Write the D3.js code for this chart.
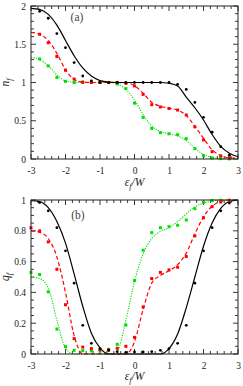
<!DOCTYPE html>
<html><head><meta charset="utf-8">
<script src="https://cdn.jsdelivr.net/npm/d3@7"></script>
<style>body{margin:0;background:#fff}svg{display:block}</style>
</head><body>
<script>
// ---- data ----
const curveX = [-3,-2.75,-2.5,-2.25,-2,-1.75,-1.5,-1.25,-1,-0.75,-0.5,-0.25,0,0.25,0.5,0.75,1,1.25,1.5,1.75,2,2.25,2.5,2.75,3];
const dotXA = [-2.75,-2.5,-2.25,-2,-1.75,-1.5,-1.25,-1,-0.75,-0.5,-0.25,0,0.25,0.5,0.75,1,1.25,1.5,1.75,2,2.25,2.5,2.75];
const dotXB = [-3,-2.75,-2.5,-2.25,-2,-1.75,-1.5,-1.25,-1,-0.75,-0.5,-0.25,0,0.25,0.5,0.75,1,1.25,1.5,1.75,2,2.25,2.5,2.75];

// panel (a): n_f
const nBlackCurve = [1.97,1.955,1.89,1.75,1.55,1.35,1.19,1.085,1.025,1.005,1,1,1,1,1,1,0.99,0.955,0.81,0.67,0.51,0.32,0.165,0.075,0.03];
const nRedCurve   = [1.655,1.63,1.55,1.38,1.17,1.04,1.005,1,1,1,1,0.995,0.96,0.86,0.74,0.69,0.665,0.64,0.57,0.43,0.27,0.12,0.045,0.015,0.01];
const nGreenCurve = [1.33,1.30,1.22,1.10,1.02,1.003,1,1,1,1,0.98,0.91,0.77,0.58,0.43,0.36,0.33,0.30,0.24,0.14,0.06,0.02,0.005,0.001,0];
const nBlackDots = [1.93,1.84,1.64,1.455,1.26,1.085,1.02,1,1,1,1,1,1,1,1,1,0.976,0.91,0.74,0.545,0.35,0.16,0.05];
const nRedDots   = [1.63,1.52,1.34,1.16,1.045,1.006,1,1,1,1,0.99,0.955,0.845,0.71,0.68,0.66,0.64,0.575,0.42,0.25,0.096,0.04,0.013];
const nGreenDots = [1.307,1.216,1.067,1.015,1,1,1,1,1,0.98,0.92,0.73,0.545,0.40,0.344,0.33,0.318,0.266,0.135,0.044,0.013,0.005,0.002];

// panel (b): q_f
const qBlackCurve = [0.995,0.99,0.95,0.86,0.72,0.52,0.31,0.135,0.04,0,0,0,0,0,0,0,0.035,0.13,0.30,0.50,0.70,0.85,0.945,0.99,1];
const qRedCurve   = [0.80,0.79,0.75,0.63,0.40,0.12,0,0,0,0,0,0,0.08,0.29,0.46,0.51,0.54,0.58,0.655,0.78,0.89,0.96,0.99,1,1];
const qGreenCurve = [0.50,0.49,0.43,0.22,0.04,0,0,0,0,0,0.02,0.22,0.47,0.65,0.75,0.795,0.82,0.86,0.91,0.955,0.98,0.995,1,1,1];
const qBlackDots = [0.983,0.93,0.82,0.67,0.46,0.186,0.069,0.035,0.026,0.015,0.011,0.013,0.013,0.015,0.024,0.035,0.069,0.186,0.46,0.67,0.82,0.93,0.98];
const qRedDots   = [0.82,0.80,0.728,0.55,0.32,0.10,0.045,0.035,0.028,0.024,0.037,0.05,0.108,0.305,0.49,0.53,0.546,0.564,0.633,0.767,0.885,0.957,0.987,0.996];
const qGreenDots = [0.53,0.516,0.404,0.162,0.048,0.024,0.022,0.02,0.02,0.03,0.063,0.188,0.477,0.674,0.788,0.82,0.827,0.836,0.87,0.944,0.985,0.996,0.998,0.999];

const xTicks = [-3,-2,-1,0,1,2,3];
const nTicks = [0,0.5,1,1.5,2];
const qTicks = [0,0.2,0.4,0.6,0.8,1];

const FONT = "Liberation Serif";
const W = 243, H = 386;
const svg = d3.select("body").append("svg").attr("width", W).attr("height", H)
  .style("font-family", FONT);

const colors = {black:"#000", red:"#ff0000", green:"#00e000"};

function setFont(sel, size){ sel.style("font-family", FONT).attr("font-size", size); }

function panel(cfg){
  const x = d3.scaleLinear().domain([-3,3]).range([31,238]);
  const y = d3.scaleLinear().domain(cfg.ydom).range([cfg.y0, cfg.y1]);
  const g = svg.append("g");
  const [x0,x1] = x.range();
  const yb = cfg.y0, yt = cfg.y1;
  const xMinor = d3.range(-3, 3.0001, 0.2).map(v=>+v.toFixed(2));
  const yMinor = d3.range(cfg.ydom[0], cfg.ydom[1]+1e-6, cfg.minor).map(v=>+v.toFixed(3));
  const isMajor = (v, arr) => arr.some(a => Math.abs(a-v) < 1e-6);
  xMinor.forEach(v=>{
    const L = isMajor(v, xTicks) ? 5 : 3;
    g.append("line").attr("x1",x(v)).attr("x2",x(v)).attr("y1",yb).attr("y2",yb-L).attr("stroke","#222").attr("stroke-width",0.9);
    g.append("line").attr("x1",x(v)).attr("x2",x(v)).attr("y1",yt).attr("y2",yt+L).attr("stroke","#222").attr("stroke-width",0.9);
  });
  yMinor.forEach(v=>{
    const L = isMajor(v, cfg.ticks) ? 5 : 3;
    g.append("line").attr("y1",y(v)).attr("y2",y(v)).attr("x1",x0).attr("x2",x0+L).attr("stroke","#222").attr("stroke-width",0.9);
    g.append("line").attr("y1",y(v)).attr("y2",y(v)).attr("x1",x1).attr("x2",x1-L).attr("stroke","#222").attr("stroke-width",0.9);
  });
  const ax = g.append("g").attr("transform",`translate(0,${yb})`)
    .call(d3.axisBottom(x).tickValues(xTicks).tickSize(0).tickPadding(8).tickFormat(d=>d<0? "-"+Math.abs(d) : d));
  ax.select(".domain").remove();
  ax.selectAll("text").call(setFont, 9.5).attr("fill","#222");
  const ay = g.append("g").attr("transform",`translate(${x0},0)`)
    .call(d3.axisLeft(y).tickValues(cfg.ticks).tickSize(0).tickPadding(5).tickFormat(d=>String(d)));
  ay.select(".domain").remove();
  ay.selectAll("text").call(setFont, 9.5).attr("fill","#222");

  const line = d3.line().x((d,i)=>x(curveX[i])).y(d=>y(d)).curve(d3.curveMonotoneX);
  const styles = [
    {c:cfg.curves[0], col:colors.black, w:1.2, dash:null},
    {c:cfg.curves[1], col:colors.red, w:1.2, dash:"4,2.5"},
    {c:cfg.curves[2], col:colors.green, w:1.1, dash:"1.2,1.3"}
  ];
  styles.slice().reverse().forEach(s=>{
    g.append("path").attr("d", line(s.c)).attr("fill","none").attr("stroke",s.col)
      .attr("stroke-width",s.w).attr("stroke-dasharray",s.dash);
  });
  cfg.dots.forEach(ds=>{
    ds.v.forEach((v,i)=>{
      const px = x(ds.x[i]), py = y(v);
      if(ds.shape==="circle"){
        g.append("circle").attr("cx",px).attr("cy",py).attr("r",1.4).attr("fill",ds.col);
      } else {
        g.append("rect").attr("x",px-1.5).attr("y",py-1.5).attr("width",3).attr("height",3).attr("fill",ds.col);
      }
    });
  });
  g.append("rect").attr("x",x0).attr("y",yt).attr("width",x1-x0).attr("height",yb-yt)
    .attr("fill","none").attr("stroke","#222").attr("stroke-width",1);
  g.append("text").attr("x",cfg.lab[0]).attr("y",cfg.lab[1]).call(setFont, 11.5).attr("fill","#444").attr("text-anchor","middle").text(cfg.label);
  const xt = g.append("text").attr("x",(x0+x1)/2).attr("y",cfg.xtY).attr("text-anchor","middle").call(setFont, 11.5).attr("font-style","italic").attr("fill","#222");
  xt.append("tspan").text("ε");
  xt.append("tspan").attr("font-size",8).attr("dy",2.5).text("f");
  xt.append("tspan").attr("dy",-2.5).text("/W");
  const cy = (yt+yb)/2;
  const yt2 = g.append("text").attr("transform",`translate(9,${cy}) rotate(-90)`).attr("text-anchor","middle").call(setFont, 11.5).attr("font-style","italic").attr("fill","#222");
  yt2.append("tspan").text(cfg.ysym);
  yt2.append("tspan").attr("font-size",8).attr("dy",2.5).text("f");
}

panel({
  ydom:[0,2], y0:159, y1:6, ticks:nTicks, minor:0.1, label:"(a)", lab:[77,21], xtY:186, ysym:"n",
  curves:[nBlackCurve,nRedCurve,nGreenCurve],
  dots:[
    {x:dotXA, v:nGreenDots, col:colors.green, shape:"rect"},
    {x:dotXA, v:nRedDots, col:colors.red, shape:"rect"},
    {x:dotXA, v:nBlackDots, col:colors.black, shape:"circle"}
  ]
});
panel({
  ydom:[0,1], y0:354, y1:200, ticks:qTicks, minor:0.05, label:"(b)", lab:[78,219], xtY:380, ysym:"q",
  curves:[qBlackCurve,qRedCurve,qGreenCurve],
  dots:[
    {x:dotXB, v:qGreenDots, col:colors.green, shape:"rect"},
    {x:dotXB, v:qRedDots, col:colors.red, shape:"rect"},
    {x:dotXA, v:qBlackDots, col:colors.black, shape:"circle"}
  ]
});
</script>
</body></html>
